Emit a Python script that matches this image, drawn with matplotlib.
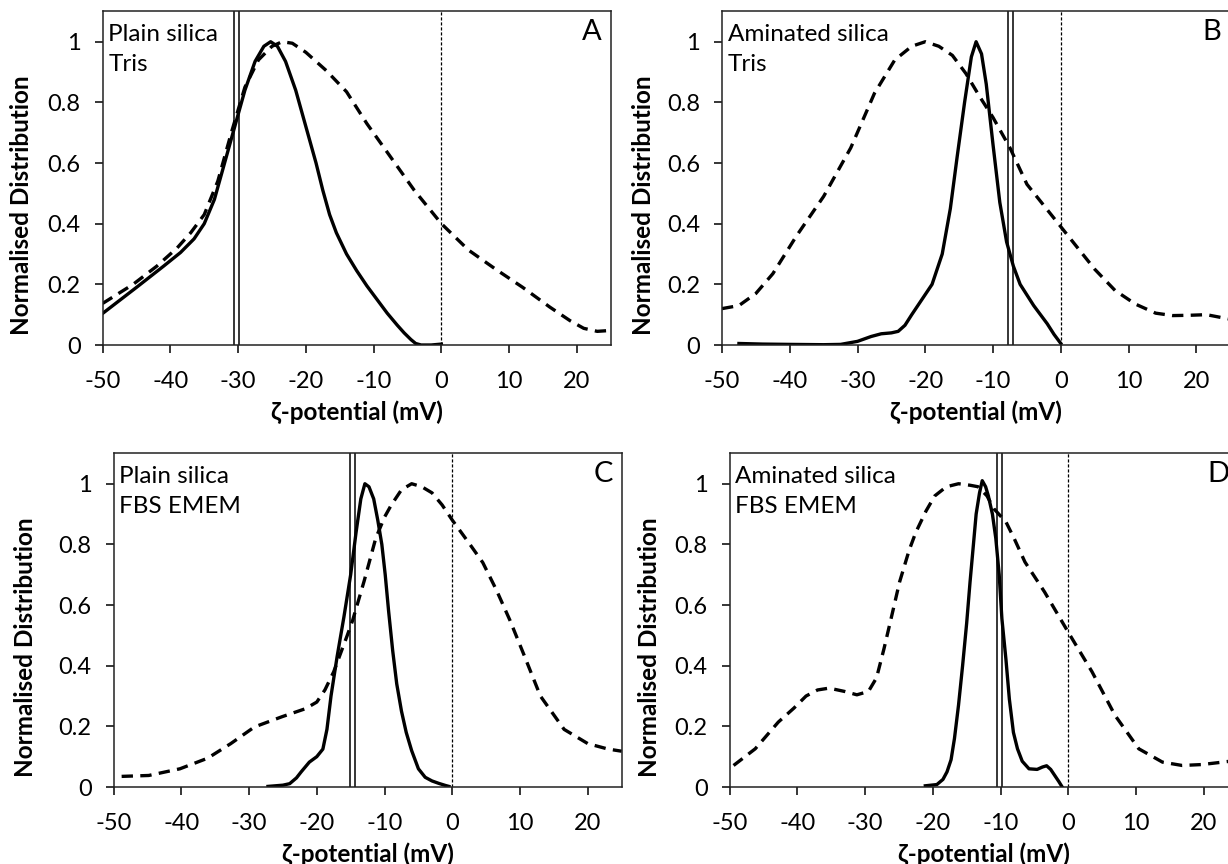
import matplotlib
matplotlib.use('Agg')
import matplotlib.pyplot as plt

plt.rcParams['font.family'] = ['Lato', 'DejaVu Sans']

# ---- data ----
a_solid_x = [-50, -45, -41, -38.5, -36.5, -35, -33.5, -32, -30.5, -29, -27.5, -26.2, -25.2, -24.2, -23, -21.5, -20, -18.5, -17.5, -16.5, -15.5, -14, -12.5, -11, -9.5, -8, -6.5, -5.5, -4.5, -3.8, -3, -1.5, 0]
a_solid_y = [0.104, 0.19, 0.26, 0.305, 0.35, 0.4, 0.48, 0.6, 0.72, 0.84, 0.935, 0.985, 1.0, 0.985, 0.935, 0.84, 0.72, 0.6, 0.51, 0.43, 0.37, 0.3, 0.245, 0.195, 0.15, 0.105, 0.065, 0.04, 0.018, 0.005, 0.0, 0.0, 0.003]
a_dash_x = [-50, -45.5, -42, -39, -37, -35, -33, -31, -29, -27, -25, -23.5, -22, -20, -17, -14, -11, -7.5, -4, 0, 4, 8, 12, 16, 19, 21, 23, 25]
a_dash_y = [0.137, 0.2, 0.26, 0.32, 0.37, 0.43, 0.54, 0.7, 0.85, 0.94, 0.985, 1.0, 0.995, 0.965, 0.905, 0.835, 0.73, 0.62, 0.51, 0.4, 0.313, 0.25, 0.19, 0.125, 0.08, 0.055, 0.045, 0.048]

b_solid_x = [-47.5, -44, -40, -35, -32.5, -30, -28, -26.5, -25, -24, -23, -22, -20.5, -19, -17.5, -16.3, -15.3, -14.2, -13.2, -12.5, -11.7, -11, -10, -9, -8, -7, -6, -5, -4, -3, -2, -1, 0]
b_solid_y = [0.005, 0.003, 0.002, 0.001, 0.002, 0.012, 0.028, 0.037, 0.04, 0.045, 0.065, 0.1, 0.15, 0.2, 0.3, 0.45, 0.62, 0.8, 0.95, 1.0, 0.96, 0.86, 0.66, 0.47, 0.34, 0.26, 0.2, 0.165, 0.13, 0.1, 0.07, 0.035, 0.005]
b_dash_x = [-50, -47.5, -45, -42.5, -39, -35, -31, -27.5, -24.5, -22, -20, -18, -16, -14, -12, -10, -7.5, -5, -2.5, 0, 2.5, 5, 8, 11, 14, 16.5, 19, 21.5, 25]
b_dash_y = [0.12, 0.13, 0.17, 0.235, 0.36, 0.49, 0.65, 0.83, 0.94, 0.985, 1.0, 0.985, 0.955, 0.895, 0.82, 0.75, 0.65, 0.53, 0.46, 0.39, 0.32, 0.25, 0.18, 0.135, 0.105, 0.097, 0.098, 0.1, 0.085]

c_solid_x = [-27.2, -25, -24, -23, -22.3, -21.1, -20, -19.1, -18.5, -17.9, -17, -16, -15, -14.2, -13.5, -12.9, -12.3, -11.6, -11, -10.4, -9.9, -9.4, -8.8, -8.2, -7.5, -6.8, -6, -5, -4, -3, -2, -1, -0.5]
c_solid_y = [0.002, 0.006, 0.011, 0.03, 0.05, 0.082, 0.1, 0.125, 0.19, 0.3, 0.43, 0.56, 0.7, 0.84, 0.95, 1.0, 0.99, 0.95, 0.88, 0.8, 0.7, 0.58, 0.45, 0.34, 0.25, 0.18, 0.12, 0.06, 0.032, 0.02, 0.012, 0.005, 0.002]
c_dash_x = [-48.8, -44.8, -40.2, -36.1, -32.7, -29.2, -25.1, -21.7, -20, -18.8, -17.5, -16.5, -15.5, -14.7, -13, -11.3, -10, -9, -7.5, -6, -4.5, -3, -1.5, 0, 2.6, 4.5, 6.5, 8.5, 10.5, 13, 16.5, 20, 23, 25]
c_dash_y = [0.035, 0.038, 0.06, 0.095, 0.143, 0.198, 0.232, 0.258, 0.28, 0.32, 0.38, 0.44, 0.5, 0.55, 0.68, 0.82, 0.89, 0.93, 0.98, 1.0, 0.99, 0.97, 0.93, 0.88, 0.8, 0.74, 0.65, 0.55, 0.44, 0.3, 0.19, 0.143, 0.125, 0.118]

d_solid_x = [-21.1, -19.4, -18.5, -17.9, -17.3, -16.8, -16.2, -15.6, -15, -14.5, -14, -13.6, -13.1, -12.7, -12.2, -11.8, -11.2, -10.7, -10.2, -9.8, -9.2, -8.7, -8.1, -7.5, -6.8, -5.8, -4.6, -3.8, -3.2, -2.6, -2, -1.4, -0.9]
d_solid_y = [0.004, 0.008, 0.025, 0.05, 0.09, 0.16, 0.27, 0.4, 0.54, 0.676, 0.8, 0.9, 0.97, 1.01, 0.99, 0.96, 0.9, 0.82, 0.7, 0.555, 0.42, 0.29, 0.18, 0.126, 0.085, 0.06, 0.058, 0.066, 0.07, 0.058, 0.038, 0.018, 0.0]
d_dash_x = [-49.4, -46.2, -42.8, -40.5, -38.7, -37, -35.3, -33, -31.2, -29.5, -28.3, -27.2, -26, -24.9, -23.5, -22.5, -21, -19.7, -18, -16.2, -14.5, -13.3, -12, -11, -9.2, -8, -6.4, -3.5, 0, 3.5, 6.9, 10.4, 13.9, 16.8, 19.7, 22, 25]
d_dash_y = [0.071, 0.126, 0.214, 0.26, 0.3, 0.32, 0.326, 0.315, 0.304, 0.315, 0.36, 0.456, 0.57, 0.676, 0.78, 0.84, 0.91, 0.96, 0.99, 1.0, 0.995, 0.99, 0.96, 0.918, 0.874, 0.82, 0.742, 0.643, 0.51, 0.38, 0.236, 0.126, 0.082, 0.071, 0.074, 0.08, 0.088]

# mean zeta potential markers (double vertical lines)
a_mean = [-30.6, -29.9]
b_mean = [-7.8, -7.1]
c_mean = [-15.1, -14.4]
d_mean = [-10.5, -9.8]

panels = [
    ('A', 'Plain silica', 'Tris', a_solid_x, a_solid_y, a_dash_x, a_dash_y, a_mean),
    ('B', 'Aminated silica', 'Tris', b_solid_x, b_solid_y, b_dash_x, b_dash_y, b_mean),
    ('C', 'Plain silica', 'FBS EMEM', c_solid_x, c_solid_y, c_dash_x, c_dash_y, c_mean),
    ('D', 'Aminated silica', 'FBS EMEM', d_solid_x, d_solid_y, d_dash_x, d_dash_y, d_mean),
]

W, H = 1228, 864
# axes boxes in pixels: left, top (from top), ylabel x position (axes frac)
boxes = {'A': (102.6, 11.4, -0.136), 'B': (722.0, 11.4, -0.132),
         'C': (113.5, 453.4, -0.15), 'D': (729.5, 453.4, -0.135)}
AW, AH = 508.2, 333.6

fig = plt.figure(figsize=(W / 100, H / 100), dpi=100)

for letter, line1, line2, sx, sy, dx, dy, mean in panels:
    left, top, ylab_x = boxes[letter]
    ax = fig.add_axes([left / W, (H - top - AH) / H, AW / W, AH / H])
    ax.plot(sx, sy, color='black', lw=2.4, solid_joinstyle='round')
    ax.plot(dx, dy, color='black', lw=2.4, dashes=(3.4, 2.2))
    for m in mean:
        ax.axvline(m, color='black', lw=1.1)
    ax.axvline(0, color='black', lw=0.9, dashes=(2.5, 1.5))

    ax.set_xlim(-50, 25)
    ax.set_ylim(0, 1.1)
    ax.set_xticks([-50, -40, -30, -20, -10, 0, 10, 20])
    ax.set_xticklabels(['-50', '-40', '-30', '-20', '-10', '0', '10', '20'])
    ax.set_yticks([0, 0.2, 0.4, 0.6, 0.8, 1])
    ax.set_yticklabels(['0', '0.2', '0.4', '0.6', '0.8', '1'])
    ax.tick_params(direction='out', length=5.8, width=1.1, labelsize=17, color='black')
    ax.tick_params(axis='x', pad=13)
    ax.tick_params(axis='y', pad=10)
    for sp in ax.spines.values():
        sp.set_linewidth(1.1)
        sp.set_color('#222222')

    ax.set_xlabel('ζ-potential (mV)', fontsize=17.5, fontweight='bold', labelpad=6)
    ax.set_ylabel('Normalised Distribution', fontsize=17.5, fontweight='bold')
    ax.yaxis.set_label_coords(ylab_x, 0.42)

    ax.text(0.011, 1 - 23 / AH, line1, transform=ax.transAxes, ha='left', va='center',
            fontsize=17.5)
    ax.text(0.011, 1 - 53 / AH, line2, transform=ax.transAxes, ha='left', va='center',
            fontsize=17.5)
    ax.text(0.963, 1 - 21 / AH, letter, transform=ax.transAxes, ha='center', va='center',
            fontsize=21)

fig.savefig('out.png', dpi=100)
